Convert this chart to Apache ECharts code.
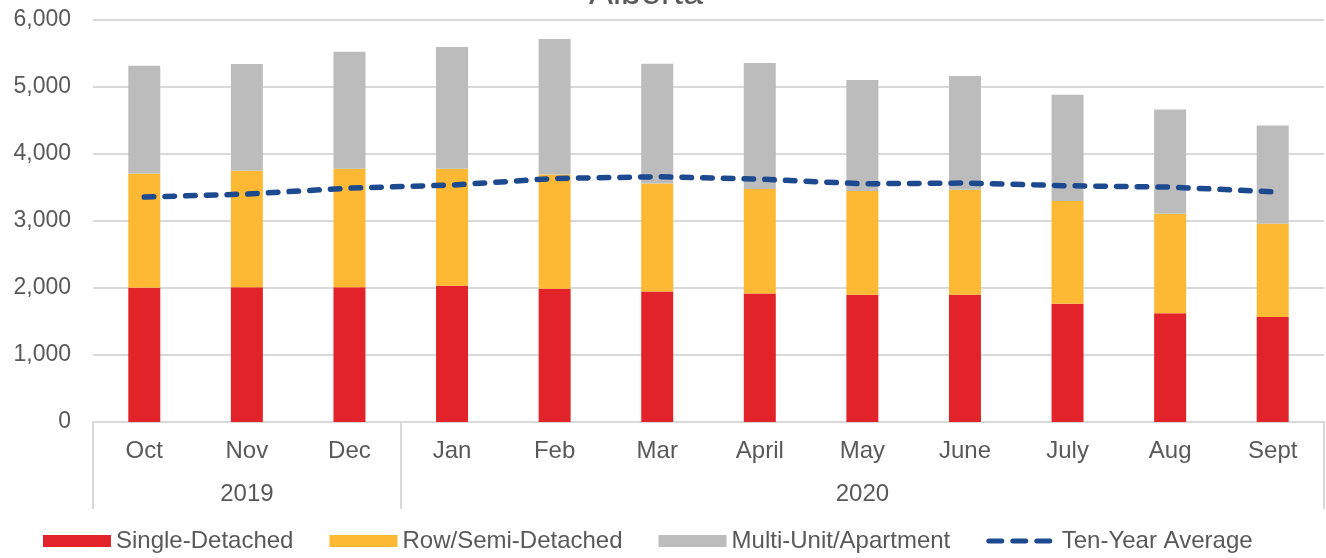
<!DOCTYPE html>
<html>
<head>
<meta charset="utf-8">
<script src="https://cdn.jsdelivr.net/npm/echarts@6/dist/echarts.min.js"></script>
<style>
html,body{margin:0;padding:0;background:#fff;}
#chart{width:1326px;height:558px;}
</style>
</head>
<body>
<div id="chart"></div>
<script>
const months = ['Oct','Nov','Dec','Jan','Feb','Mar','April','May','June','July','Aug','Sept'];
const years = ['2019','2019','2019','2020','2020','2020','2020','2020','2020','2020','2020','2020'];
const singleDetached = [2002, 2012, 2012, 2032, 1987, 1948, 1918, 1898, 1898, 1764, 1625, 1566];
const rowSemi = [1708, 1737, 1767, 1747, 1708, 1613, 1558, 1549, 1568, 1534, 1484, 1394];
const multiUnit = [1608, 1593, 1747, 1818, 2021, 1786, 1881, 1657, 1698, 1588, 1554, 1464];
const tenYearAvg = [3357, 3402, 3491, 3536, 3635, 3660, 3625, 3556, 3566, 3526, 3506, 3437];
const yTicks = [0, 1000, 2000, 3000, 4000, 5000, 6000];

// group boundaries & centers for the two-level axis
const groupStarts = [];
const groupCenters = {};
(function(){
  let s = 0;
  for (let i = 1; i <= years.length; i++) {
    if (i === years.length || years[i] !== years[s]) {
      groupStarts.push(s);
      groupCenters[Math.floor((s + i - 1) / 2)] = years[s];
      s = i;
    }
  }
})();

const FONT = 'Liberation Sans, Arial, sans-serif';
const TXT = '#595959';
const GRID = '#d9d9d9';
const LINE = '#1d4a8e';

const chart = echarts.init(document.getElementById('chart'));
chart.setOption({
  animation: false,
  textStyle: { fontFamily: FONT },
  title: {
    text: 'Alberta',
    left: 584,
    top: -29,
    textStyle: { fontFamily: FONT, fontSize: 36, fontWeight: 'normal', color: TXT }
  },
  grid: { left: 93, right: 2, top: 20, bottom: 136, containLabel: false },
  legend: {
    left: 38,
    top: 524,
    itemWidth: 68,
    itemHeight: 12,
    itemGap: 36,
    textStyle: { fontFamily: FONT, fontSize: 24, color: TXT },
    data: [
      { name: 'Single-Detached', icon: 'rect' },
      { name: 'Row/Semi-Detached', icon: 'rect' },
      { name: 'Multi-Unit/Apartment', icon: 'rect' },
      { name: 'Ten-Year Average', itemStyle: { opacity: 0 },
        lineStyle: { color: LINE, width: 5, type: [13, 11], cap: 'round' } }
    ]
  },
  xAxis: [
    {
      type: 'category',
      data: months,
      position: 'bottom',
      axisLine: { show: true, lineStyle: { color: GRID, width: 2 } },
      axisTick: {
        show: true,
        length: 87,
        interval: function (i) { return groupStarts.indexOf(i) >= 0; },
        lineStyle: { color: GRID, width: 2 }
      },
      axisLabel: { interval: 0, margin: 17, fontSize: 24, color: TXT, fontFamily: FONT }
    },
    {
      type: 'category',
      data: months,
      position: 'bottom',
      axisLine: { show: false },
      axisTick: { show: false },
      axisLabel: {
        interval: function (i) { return groupCenters[i] !== undefined; },
        formatter: function (v, i) { return groupCenters[i] || ''; },
        margin: 60, fontSize: 24, color: TXT, fontFamily: FONT
      }
    }
  ],
  yAxis: {
    type: 'value',
    min: yTicks[0],
    max: yTicks[yTicks.length - 1],
    interval: 1000,
    axisLine: { show: false },
    axisTick: { show: false },
    splitLine: { lineStyle: { color: GRID, width: 2 } },
    axisLabel: {
      margin: 22, fontSize: 23, color: TXT, fontFamily: FONT,
      formatter: function (v) { return v.toLocaleString('en-US'); }
    }
  },
  series: [
    { name: 'Single-Detached', type: 'bar', stack: 'total', barWidth: 32, data: singleDetached,
      itemStyle: { color: '#e2242a' } },
    { name: 'Row/Semi-Detached', type: 'bar', stack: 'total', barWidth: 32, data: rowSemi,
      itemStyle: { color: '#fdb933' } },
    { name: 'Multi-Unit/Apartment', type: 'bar', stack: 'total', barWidth: 32, data: multiUnit,
      itemStyle: { color: '#bcbcbc' } },
    { name: 'Ten-Year Average', type: 'line', data: tenYearAvg, symbol: 'none', z: 5,
      lineStyle: { color: LINE, width: 5.5, type: [9.5, 11.2], cap: 'round' },
      itemStyle: { color: LINE } }
  ]
});
</script>
</body>
</html>
